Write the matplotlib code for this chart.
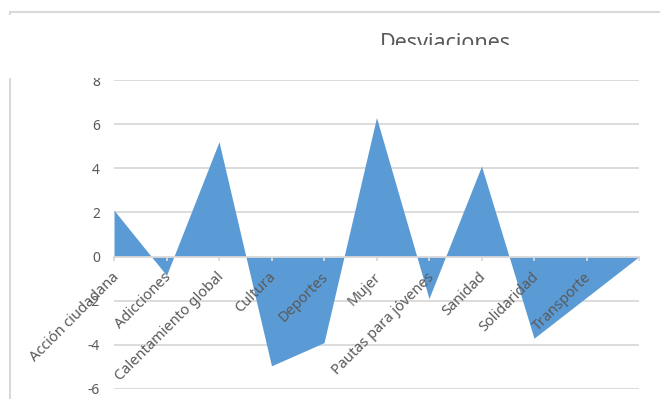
"""
Desviaciones por tema: area chart around zero.
"""
import matplotlib.pyplot as plt
from matplotlib.patches import Rectangle
from matplotlib.lines import Line2D

categories = ["Acción ciudadana", "Adicciones", "Calentamiento global", "Cultura",
              "Deportes", "Mujer", "Pautas para jóvenes", "Sanidad", "Solidaridad",
              "Transporte", ""]
values = [2.1, -0.85, 5.2, -4.95, -3.9, 6.3, -1.9, 4.1, -3.7, -1.85, 0]
y_ticks = [-6, -4, -2, 0, 2, 4, 6, 8]

FILL = "#5B9BD5"
GRID = "#D9D9D9"
TEXT = "#595959"

plt.rcParams["font.family"] = ["Noto Sans", "DejaVu Sans"]

W, H = 660, 399
fig = plt.figure(figsize=(W / 100, H / 100), dpi=100)
ax = fig.add_axes([114 / W, 1 - 389 / H, (639 - 114) / W, (389 - 80) / H])

x = list(range(len(categories)))
ax.fill_between(x, values, 0, color=FILL, linewidth=0, zorder=1)

ax.set_xlim(0, len(categories) - 1)
ax.set_ylim(y_ticks[0], y_ticks[-1])
ax.set_yticks(y_ticks)
ax.set_yticklabels([str(v) for v in y_ticks])
for v in y_ticks:
    if v != 0:
        ax.axhline(v, color=GRID, linewidth=1.3, zorder=0.5)

for side in ["top", "right", "left"]:
    ax.spines[side].set_visible(False)
ax.spines["bottom"].set_position(("data", 0))
ax.spines["bottom"].set_color(GRID)
ax.spines["bottom"].set_linewidth(1.3)

ax.set_xticks(x)
ax.set_xticklabels([])
ax.tick_params(axis="x", direction="out", length=3, width=1.3, color=GRID)
ax.tick_params(axis="y", length=0, pad=10, labelsize=10, labelcolor=TEXT)

# category labels sit over the filled area
for i, cat in enumerate(categories):
    ax.annotate(cat, xy=(i, 0), xytext=(-2, -9.5), textcoords="offset points",
                rotation=45, rotation_mode="anchor", ha="right", va="top",
                fontsize=10.5, color=TEXT, zorder=4, annotation_clip=False)

# chart frame edges
fig.add_artist(Line2D([10 / W, 1], [1 - 12 / H] * 2, color=GRID, linewidth=1.5, zorder=2))
fig.add_artist(Line2D([10 / W] * 2, [0, 1 - 12 / H], color=GRID, linewidth=1.5, zorder=2))

fig.text(445 / W, 1 - 49 / H, "Desviaciones", ha="center", va="baseline",
         fontsize=15.5, color=TEXT, zorder=3)

# white band hiding the lower part of the title
fig.add_artist(Rectangle((0, 1 - 78 / H), 1, 33 / H, transform=fig.transFigure,
                         facecolor="white", edgecolor="none", zorder=5))
fig.add_artist(Rectangle((0, 1 - 45 / H), 40 / W, 30 / H, transform=fig.transFigure,
                         facecolor="white", edgecolor="none", zorder=5))

fig.savefig("out.png", dpi=100, facecolor="white")
